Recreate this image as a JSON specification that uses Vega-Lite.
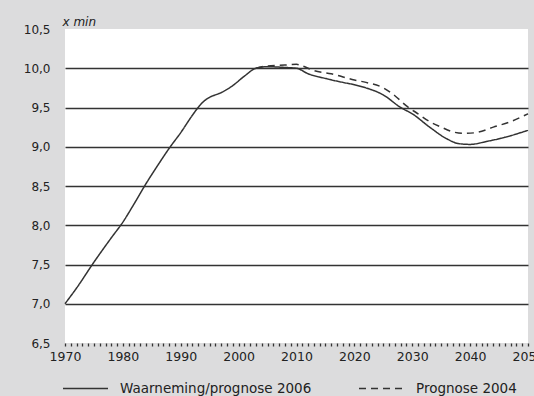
{
  "$schema": "https://vega.github.io/schema/vega-lite/v6.json",
  "width": 463,
  "height": 314,
  "autosize": {"type": "none"},
  "padding": {"left": 65, "top": 29, "right": 6, "bottom": 53},
  "background": "#dcdcdd",
  "config": {
    "view": {"fill": "white", "stroke": null},
    "font": "DejaVu Sans"
  },
  "data": {
    "values": [
      {"year": 1970, "value": 7.00, "series": "Waarneming/prognose 2006"},
      {"year": 1972, "value": 7.20, "series": "Waarneming/prognose 2006"},
      {"year": 1975, "value": 7.53, "series": "Waarneming/prognose 2006"},
      {"year": 1978, "value": 7.84, "series": "Waarneming/prognose 2006"},
      {"year": 1980, "value": 8.04, "series": "Waarneming/prognose 2006"},
      {"year": 1982, "value": 8.28, "series": "Waarneming/prognose 2006"},
      {"year": 1984, "value": 8.53, "series": "Waarneming/prognose 2006"},
      {"year": 1986, "value": 8.76, "series": "Waarneming/prognose 2006"},
      {"year": 1988, "value": 8.98, "series": "Waarneming/prognose 2006"},
      {"year": 1990, "value": 9.18, "series": "Waarneming/prognose 2006"},
      {"year": 1992, "value": 9.40, "series": "Waarneming/prognose 2006"},
      {"year": 1993, "value": 9.50, "series": "Waarneming/prognose 2006"},
      {"year": 1994, "value": 9.58, "series": "Waarneming/prognose 2006"},
      {"year": 1995, "value": 9.63, "series": "Waarneming/prognose 2006"},
      {"year": 1997, "value": 9.69, "series": "Waarneming/prognose 2006"},
      {"year": 1999, "value": 9.78, "series": "Waarneming/prognose 2006"},
      {"year": 2001, "value": 9.90, "series": "Waarneming/prognose 2006"},
      {"year": 2003, "value": 10.00, "series": "Waarneming/prognose 2006"},
      {"year": 2005, "value": 10.02, "series": "Waarneming/prognose 2006"},
      {"year": 2008, "value": 10.01, "series": "Waarneming/prognose 2006"},
      {"year": 2010, "value": 10.00, "series": "Waarneming/prognose 2006"},
      {"year": 2012, "value": 9.93, "series": "Waarneming/prognose 2006"},
      {"year": 2015, "value": 9.87, "series": "Waarneming/prognose 2006"},
      {"year": 2018, "value": 9.82, "series": "Waarneming/prognose 2006"},
      {"year": 2020, "value": 9.79, "series": "Waarneming/prognose 2006"},
      {"year": 2022, "value": 9.75, "series": "Waarneming/prognose 2006"},
      {"year": 2025, "value": 9.66, "series": "Waarneming/prognose 2006"},
      {"year": 2028, "value": 9.50, "series": "Waarneming/prognose 2006"},
      {"year": 2030, "value": 9.42, "series": "Waarneming/prognose 2006"},
      {"year": 2033, "value": 9.25, "series": "Waarneming/prognose 2006"},
      {"year": 2036, "value": 9.10, "series": "Waarneming/prognose 2006"},
      {"year": 2038, "value": 9.04, "series": "Waarneming/prognose 2006"},
      {"year": 2040, "value": 9.03, "series": "Waarneming/prognose 2006"},
      {"year": 2043, "value": 9.07, "series": "Waarneming/prognose 2006"},
      {"year": 2046, "value": 9.12, "series": "Waarneming/prognose 2006"},
      {"year": 2050, "value": 9.21, "series": "Waarneming/prognose 2006"},
      {"year": 2003, "value": 10.00, "series": "Prognose 2004"},
      {"year": 2005, "value": 10.03, "series": "Prognose 2004"},
      {"year": 2008, "value": 10.04, "series": "Prognose 2004"},
      {"year": 2010, "value": 10.05, "series": "Prognose 2004"},
      {"year": 2011, "value": 10.03, "series": "Prognose 2004"},
      {"year": 2013, "value": 9.97, "series": "Prognose 2004"},
      {"year": 2016, "value": 9.93, "series": "Prognose 2004"},
      {"year": 2020, "value": 9.85, "series": "Prognose 2004"},
      {"year": 2022, "value": 9.82, "series": "Prognose 2004"},
      {"year": 2025, "value": 9.75, "series": "Prognose 2004"},
      {"year": 2027, "value": 9.65, "series": "Prognose 2004"},
      {"year": 2029, "value": 9.52, "series": "Prognose 2004"},
      {"year": 2031, "value": 9.42, "series": "Prognose 2004"},
      {"year": 2033, "value": 9.32, "series": "Prognose 2004"},
      {"year": 2035, "value": 9.25, "series": "Prognose 2004"},
      {"year": 2037, "value": 9.19, "series": "Prognose 2004"},
      {"year": 2039, "value": 9.17, "series": "Prognose 2004"},
      {"year": 2041, "value": 9.18, "series": "Prognose 2004"},
      {"year": 2044, "value": 9.25, "series": "Prognose 2004"},
      {"year": 2047, "value": 9.32, "series": "Prognose 2004"},
      {"year": 2050, "value": 9.42, "series": "Prognose 2004"}
    ]
  },
  "mark": {"type": "line", "interpolate": "monotone", "color": "#333333", "strokeWidth": 1.5},
  "encoding": {
    "x": {
      "field": "year",
      "type": "quantitative",
      "scale": {"domain": [1970, 2050], "nice": false, "zero": false},
      "axis": {
        "title": null,
        "domain": false,
        "grid": false,
        "values": [1970,1971,1972,1973,1974,1975,1976,1977,1978,1979,1980,1981,1982,1983,1984,1985,1986,1987,1988,1989,1990,1991,1992,1993,1994,1995,1996,1997,1998,1999,2000,2001,2002,2003,2004,2005,2006,2007,2008,2009,2010,2011,2012,2013,2014,2015,2016,2017,2018,2019,2020,2021,2022,2023,2024,2025,2026,2027,2028,2029,2030,2031,2032,2033,2034,2035,2036,2037,2038,2039,2040,2041,2042,2043,2044,2045,2046,2047,2048,2049,2050],
        "labelExpr": "datum.value % 10 == 0 ? datum.value : ''",
        "labelOverlap": false,
        "labelFlush": false,
        "ticks": true,
        "tickSize": 3,
        "tickWidth": 1.3,
        "tickColor": "#333333",
        "labelPadding": 4,
        "labelFont": "DejaVu Sans",
        "labelFontSize": 12.5,
        "labelColor": "#222222"
      }
    },
    "y": {
      "field": "value",
      "type": "quantitative",
      "scale": {"domain": [6.5, 10.5], "nice": false, "zero": false},
      "axis": {
        "values": [6.5, 7.0, 7.5, 8.0, 8.5, 9.0, 9.5, 10.0, 10.5],
        "labelExpr": "replace(format(datum.value, '.1f'), '.', ',')",
        "domain": false,
        "ticks": false,
        "grid": true,
        "gridColor": "#333333",
        "gridWidth": 1.5,
        "gridOpacity": {"condition": {"test": "datum.value <= 6.5 || datum.value >= 10.5", "value": 0}, "value": 1},
        "labelPadding": 15,
        "labelFont": "DejaVu Sans",
        "labelFontSize": 12,
        "labelColor": "#222222",
        "title": "x min",
        "titleAngle": 0,
        "titleX": -3,
        "titleY": -4,
        "titleAlign": "left",
        "titleBaseline": "alphabetic",
        "titleFont": "DejaVu Sans",
        "titleFontStyle": "italic",
        "titleFontWeight": "normal",
        "titleFontSize": 12,
        "titleColor": "#222222"
      }
    },
    "strokeDash": {
      "field": "series",
      "type": "nominal",
      "scale": {"domain": ["Waarneming/prognose 2006", "Prognose 2004"], "range": [[1, 0], [7, 5]]},
      "legend": {
        "title": null,
        "orient": "none",
        "direction": "horizontal",
        "legendX": -3,
        "legendY": 336,
        "symbolType": "stroke",
        "symbolSize": 2025,
        "symbolStrokeWidth": 1.3,
        "symbolStrokeColor": "#333333",
        "labelFont": "DejaVu Sans",
        "labelFontSize": 13.5,
        "labelColor": "#222222",
        "labelOffset": 11,
        "labelLimit": 400,
        "columnPadding": 44
      }
    }
  }
}
